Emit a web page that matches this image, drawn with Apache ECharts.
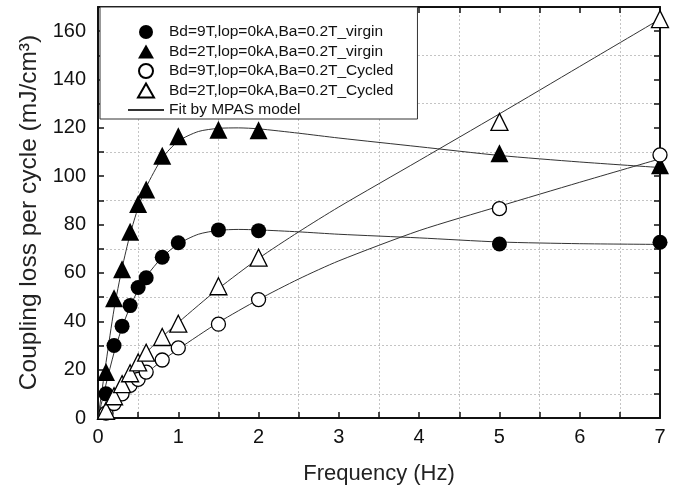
<!DOCTYPE html>
<html><head><meta charset="utf-8">
<script src="https://cdn.jsdelivr.net/npm/echarts@6/dist/echarts.min.js"></script>
<style>html,body{margin:0;padding:0;background:#fff}#c{width:695px;height:491px}</style>
</head><body><div id="c"></div>
<script>
// Measured frequencies (Hz)
const freq = [0.1, 0.2, 0.3, 0.4, 0.5, 0.6, 0.8, 1, 1.5, 2, 5, 7];
// Coupling loss per cycle (mJ/cm3)
const bd9Virgin = [10, 30, 38, 46.5, 54, 58, 66.5, 72.5, 77.8, 77.5, 72, 72.7];
const bd2Virgin = [19, 49.5, 61.5, 77, 88.5, 94.5, 108.5, 116.5, 119.2, 119, 109.5, 104.5];
const bd9Cycled = [2, 6, 10, 13.5, 16, 19, 24, 29, 38.8, 49, 86.6, 108.8];
const bd2Cycled = [3, 9, 14, 18.5, 23, 27, 33.5, 39, 54.5, 66.3, 122.5, 165];

// MPAS fit curves
const fitXV = [0, 0.1, 0.2, 0.3, 0.4, 0.5, 0.6, 0.8, 1, 1.25, 1.5, 1.75, 2, 2.5, 3, 4, 5, 6, 7];
const fit9Virgin = [0, 14, 27, 37.5, 46, 53, 58.5, 66.5, 72, 76, 77.6, 78, 77.8, 77, 76, 74.5, 72.8, 72.1, 71.8];
const fit2Virgin = [0, 23, 45, 62, 76, 87, 95.5, 107.5, 114.5, 118.5, 119.8, 120, 119.6, 117.8, 115.8, 112.2, 108.6, 105.9, 103.6];
const fitXC = [0, 0.25, 0.5, 0.75, 1, 1.5, 2, 2.5, 3, 4, 5, 6, 7];
const fit9Cycled = [0, 8, 15.5, 22.5, 28.5, 39.5, 49, 57.5, 65, 77.5, 87.6, 97.5, 107.2];
const fit2Cycled = [0, 12, 23.5, 32, 39.5, 53.5, 66, 77, 87.3, 106.5, 125.8, 145.4, 165];

// Axis tick labels
const xTickLabels = [0, 1, 2, 3, 4, 5, 6, 7];
const yTickLabels = [0, 20, 40, 60, 80, 100, 120, 140, 160];

const names = [
  'Bd=9T,lop=0kA,Ba=0.2T_virgin',
  'Bd=2T,lop=0kA,Ba=0.2T_virgin',
  'Bd=9T,lop=0kA,Ba=0.2T_Cycled',
  'Bd=2T,lop=0kA,Ba=0.2T_Cycled',
  'Fit by MPAS model'
];

const pairs = (xs, ys) => xs.map((x, i) => [x, ys[i]]);
const FONT = 'Arial, "Liberation Sans", sans-serif';
const INK = '#111';
const gridColors = ['rgba(0,0,0,0)', '#c4c4c4'];
const TRI = 'path://M8,0L16,14L0,14Z';

function mainAxisCommon() {
  return {
    axisLine: { show: true, onZero: false, lineStyle: { color: INK, width: 2 } },
    axisTick: { show: true, inside: true, length: 6, lineStyle: { color: INK, width: 1.5 } },
  };
}

const chart = echarts.init(document.getElementById('c'), null, { renderer: 'canvas' });

const scatterStyle = (fill) => ({ color: fill, opacity: 1, borderColor: '#000', borderWidth: fill === '#fff' ? 1.3 : 0 });
const fitLine = (xs, ys) => ({
  name: names[4], type: 'line', data: pairs(xs, ys), smooth: 0.25, symbol: 'none',
  lineStyle: { color: '#333', width: 1 }, itemStyle: { color: '#333' }, z: 1, silent: true
});

chart.setOption({
  animation: false,
  backgroundColor: '#fff',
  textStyle: { fontFamily: FONT },
  grid: { left: 98, right: 35, top: 7, bottom: 73 },
  legend: {
    orient: 'vertical', left: 100, top: 7,
    data: [
      { name: names[0], icon: 'circle' },
      { name: names[1], icon: TRI },
      { name: names[2], icon: 'circle' },
      { name: names[3], icon: TRI },
      { name: names[4], itemStyle: { color: 'rgba(0,0,0,0)', borderColor: 'rgba(0,0,0,0)', borderWidth: 0 } }
    ],
    backgroundColor: '#fff', borderColor: '#333', borderWidth: 1,
    padding: [17, 24, 1, 27],
    itemGap: 3.5, itemWidth: 36, itemHeight: 14,
    textStyle: { fontSize: 15.5, color: INK, fontFamily: FONT },
    z: 10
  },
  xAxis: [
    Object.assign(mainAxisCommon(), {
      type: 'value', position: 'bottom', min: 0, max: 7, interval: 0.5,
      name: 'Frequency (Hz)', nameLocation: 'middle', nameGap: 45,
      nameTextStyle: { fontSize: 22, color: '#222', fontFamily: FONT },
      axisLabel: {
        fontSize: 20, color: INK, margin: 9, fontFamily: FONT,
        formatter: v => xTickLabels.includes(v) ? String(v) : ''
      },
      splitLine: { show: true, showMinLine: true, lineStyle: { color: gridColors, type: [2, 2], width: 1 } }
    }),
    Object.assign(mainAxisCommon(), {
      type: 'value', position: 'top', min: 0, max: 7, interval: 0.5,
      axisLabel: { show: false }, splitLine: { show: false }
    })
  ],
  yAxis: [
    Object.assign(mainAxisCommon(), {
      type: 'value', position: 'left', min: 0, max: 170, interval: 10,
      name: 'Coupling loss per cycle (mJ/cm³)', nameLocation: 'middle', nameGap: 56,
      nameTextStyle: { fontSize: 24.5, color: '#222', fontFamily: FONT },
      axisLabel: {
        fontSize: 20, color: INK, margin: 12, fontFamily: FONT,
        formatter: v => yTickLabels.includes(v) ? String(v) : ''
      },
      splitLine: { show: true, showMinLine: true, lineStyle: { color: gridColors, type: [2, 2], width: 1 } }
    }),
    Object.assign(mainAxisCommon(), {
      type: 'value', position: 'right', min: 0, max: 170, interval: 10,
      axisLabel: { show: false }, splitLine: { show: false }
    })
  ],
  series: [
    fitLine(fitXV, fit9Virgin),
    fitLine(fitXV, fit2Virgin),
    fitLine(fitXC, fit9Cycled),
    fitLine(fitXC, fit2Cycled),
    { name: names[0], type: 'scatter', data: pairs(freq, bd9Virgin), symbol: 'circle', symbolSize: 15, itemStyle: scatterStyle('#000'), z: 3 },
    { name: names[1], type: 'scatter', data: pairs(freq, bd2Virgin), symbol: 'triangle', symbolSize: 18, itemStyle: scatterStyle('#000'), z: 3 },
    { name: names[2], type: 'scatter', data: pairs(freq, bd9Cycled), symbol: 'circle', symbolSize: 14, itemStyle: scatterStyle('#fff'), z: 3 },
    { name: names[3], type: 'scatter', data: pairs(freq, bd2Cycled), symbol: 'triangle', symbolSize: 17, itemStyle: scatterStyle('#fff'), z: 3 }
  ]
});
</script>
</body></html>
